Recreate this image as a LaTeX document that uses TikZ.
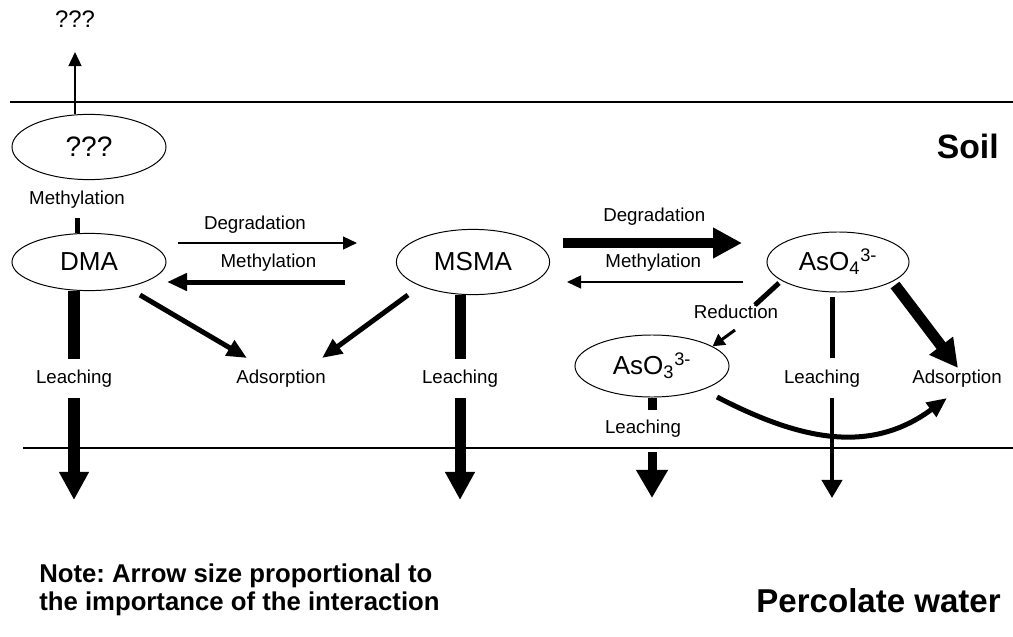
\documentclass[tikz,border=0pt]{standalone}
\usepackage{fontspec}
\setmainfont{Liberation Sans}
\usetikzlibrary{arrows.meta,calc,positioning,shapes.geometric}
\frenchspacing

\begin{document}
\begin{tikzpicture}[
    x=0.025cm, y=-0.025cm,
    species/.style={draw, ellipse, line width=0.7pt, inner sep=0pt, font=\fontsize{18.5}{22}\selectfont},
    lbl/.style={inner sep=0pt, font=\fontsize{13.3}{16}\selectfont, text height=9.6pt, text depth=2.7pt},
    thinarr/.style={line width=0.05cm, -{Triangle[length=0.35cm, width=0.32cm]}},
    smallarr/.style={line width=0.075cm, -{Triangle[length=0.3cm, width=0.32cm]}},
    medarr/.style={line width=0.1cm, -{Triangle[length=0.45cm, width=0.5cm]}},
    midarr/.style={line width=0.125cm, -{Triangle[length=0.5cm, width=0.42cm]}},
    midline/.style={line width=0.125cm},
    wideline/.style={line width=0.225cm},
    widearr/.style={line width=0.225cm, -{Triangle[length=0.7cm, width=0.75cm]}},
    bigarr/.style={line width=0.26cm, -{Triangle[length=0.72cm, width=0.72cm]}},
    bigline/.style={line width=0.275cm},
    heavyarr/.style={line width=0.275cm, -{Triangle[length=0.7cm, width=0.7cm]}},
    layer/.style={line width=0.04cm}
]
    \useasboundingbox (0,0) rectangle (1013,637);

    % soil and water boundaries
    \coordinate (soilL) at (10,102);
    \coordinate (soilR) at (1013,102);
    \coordinate (waterL) at (23,448);
    \coordinate (waterR) at (1013,448);
    \draw[layer] (soilL) -- (soilR);
    \draw[layer] (waterL) -- (waterR);

    % Arsenic species
    \node[species, minimum width=3.85cm, minimum height=1.63cm, font=\fontsize{20}{24}\selectfont] (unk) at (89,147) {???};
    \node[species, minimum width=3.85cm, minimum height=1.43cm] (DMA) at (89,262) {DMA};
    \node[species, minimum width=3.83cm, minimum height=1.63cm] (MSMA) at (473,262) {MSMA};
    \node[species, minimum width=3.55cm, minimum height=1.5cm] (AsO4) at (838,262) {AsO\textsubscript{4}\textsuperscript{3-}};
    \node[species, minimum width=3.85cm, minimum height=1.55cm] (AsO3) at (652,366) {AsO\textsubscript{3}\textsuperscript{3-}};

    % Process labels
    \node[lbl, font=\fontsize{17}{20}\selectfont] (unkTop) at (75,23) {???};
    \node[lbl] (methUnk) at (77,200) {Methylation};
    \node[lbl] (leachDMA) at (74,379) {Leaching};
    \node[lbl] (adsMid) at (281,379) {Adsorption};
    \node[lbl] (leachMSMA) at (460,379) {Leaching};
    \node[lbl] (red) at (736,314) {Reduction};
    \node[lbl] (leachAsO3) at (643,429) {Leaching};
    \node[lbl] (leachAsO4) at (822,379) {Leaching};
    \node[lbl] (adsRight) at (957,379) {Adsorption};

    % Compartments and note
    \node[inner sep=0pt, anchor=base east, font=\bfseries\fontsize{24}{28}\selectfont] (soil) at (999,158) {Soil};
    \node[inner sep=0pt, anchor=base east, font=\bfseries\fontsize{23.5}{28}\selectfont] (water) at (1001,612) {Percolate water};
    \node[inner sep=0pt, anchor=north west, align=left, font=\bfseries\fontsize{18.3}{19.5}\selectfont] (note) at (39,564) {Note: Arrow size proportional to\\the importance of the interaction};

    % Volatilization
    \draw[thinarr] (unk.north -| unkTop) -- ($(unkTop)+(0,29)$);
    \draw[midline] (DMA.north -| methUnk) -- ($(methUnk)+(0,18)$);

    % DMA <-> MSMA
    \draw[thinarr] ($(DMA)+(89,-19)$) -- node[lbl, pos=0.43, above=6pt] {Degradation} ($(MSMA)+(-116,-19)$);
    \draw[midarr] ($(MSMA)+(-128,20)$) -- node[lbl, pos=0.43, above=6pt] {Methylation} ($(DMA)+(78,20)$);

    % MSMA <-> AsO4
    \draw[bigarr] ($(MSMA)+(90,-19)$) -- node[lbl, pos=0.51, above=9pt] {Degradation} ($(AsO4)+(-96,-19)$);
    \draw[thinarr] ($(AsO4)+(-95,20)$) -- node[lbl, pos=0.51, above=7pt] {Methylation} ($(MSMA)+(94,20)$);

    % Adsorption
    \draw[midarr] ($(DMA)+(51,33)$) -- ($(adsMid)+(-34,-21)$);
    \draw[midarr] ($(MSMA)+(-65,33)$) -- ($(adsMid)+(41,-21)$);
    \draw[heavyarr] ($(AsO4)+(57,23)$) -- ($(adsRight)+(1,-11)$);
    \draw[midarr] ($(AsO3)+(65,31)$) .. controls ($(AsO3)+(148,74)$) and ($(AsO3)+(218,89)$) .. ($(adsRight)+(-10,19)$);

    % Leaching
    \draw[bigline] (DMA.south -| leachDMA) -- ($(leachDMA)+(0,-20)$);
    \draw[heavyarr] ($(leachDMA)+(0,19)$) -- ($(leachDMA)+(0,121)$);
    \draw[bigline] (MSMA.south -| leachMSMA) -- ($(leachMSMA)+(0,-20)$);
    \draw[heavyarr] ($(leachMSMA)+(0,19)$) -- ($(leachMSMA)+(0,121)$);
    \draw[midline] ($(AsO4)+(-6,35)$) -- ($(leachAsO4)+(10,-21)$);
    \draw[medarr] ($(leachAsO4)+(10,19)$) -- ($(leachAsO4)+(10,119)$);
    \draw[wideline] (AsO3.south) -- ($(leachAsO3)+(9,-19)$);
    \draw[widearr] ($(leachAsO3)+(9,23)$) -- ($(leachAsO3)+(9,69)$);

    % Reduction
    \draw[midline] ($(AsO4)+(-59,21)$) -- ($(red)+(19,-9)$);
    \draw[smallarr] ($(red)+(-1,16)$) -- (AsO3.18);
\end{tikzpicture}
\end{document}
